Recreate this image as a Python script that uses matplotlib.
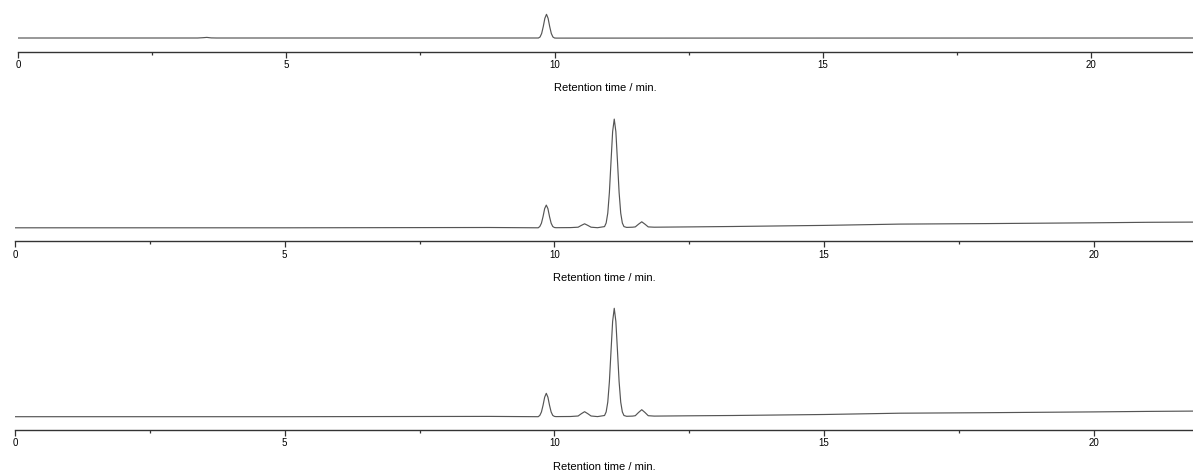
import matplotlib.pyplot as plt
from matplotlib.ticker import MultipleLocator

plt.rcParams['font.family'] = ['Liberation Sans', 'DejaVu Sans']

# trace 1 (top): retention time / min, signal (arb. units)
t1 = [0.0, 3.35, 3.45, 3.52, 3.6, 3.7, 9.7, 9.73, 9.76, 9.79, 9.82, 9.85,
      9.88, 9.91, 9.94, 9.97, 10.0, 10.03, 10.06, 10.2, 21.9]
s1 = [0.3, 0.3, 0.6, 0.9, 0.4, 0.3, 0.3, 1.3, 4.8, 11.7, 20.0, 24.0,
      20.0, 11.7, 4.8, 1.3, 0.3, 0.2, 0.2, 0.2, 0.3]

# trace 2 (middle)
t2 = [0.0, 5.0, 8.8, 9.7, 9.73, 9.76, 9.79, 9.82, 9.85, 9.88, 9.91, 9.94,
      9.97, 10.0, 10.03, 10.3, 10.44, 10.5, 10.56, 10.62, 10.68, 10.8,
      10.93, 10.96, 10.99, 11.02, 11.05, 11.08, 11.11, 11.14, 11.17, 11.2,
      11.23, 11.26, 11.29, 11.34, 11.45, 11.5, 11.56, 11.62, 11.68, 11.74,
      11.85, 12.5, 13.3, 15.0, 16.4, 18.0, 20.0, 21.0, 21.84]
s2 = [0.0, 0.0, 0.3, 0.0, 1.3, 4.6, 11.2, 19.2, 22.7, 19.2, 11.2, 4.6,
      1.3, 0.3, 0.1, 0.2, 0.6, 2.4, 4.0, 2.4, 0.6, 0.1,
      1.2, 4.8, 14.7, 35.4, 66.2, 96.2, 108.7, 96.2, 66.2, 35.4,
      14.7, 4.8, 1.2, 0.4, 0.6, 0.9, 3.6, 6.0, 3.6, 0.9,
      0.6, 0.9, 1.3, 2.4, 3.7, 4.2, 5.0, 5.5, 5.7]

# trace 3 (bottom)
t3 = [0.0, 5.0, 8.8, 9.7, 9.73, 9.76, 9.79, 9.82, 9.85, 9.88, 9.91, 9.94,
      9.97, 10.0, 10.03, 10.3, 10.44, 10.5, 10.56, 10.62, 10.68, 10.8,
      10.93, 10.96, 10.99, 11.02, 11.05, 11.08, 11.11, 11.14, 11.17, 11.2,
      11.23, 11.26, 11.29, 11.34, 11.45, 11.5, 11.56, 11.62, 11.68, 11.74,
      11.85, 12.5, 13.3, 15.0, 16.4, 18.0, 20.0, 21.0, 21.84]
s3 = [0.0, 0.0, 0.3, 0.0, 1.3, 4.7, 11.4, 19.5, 23.4, 19.5, 11.4, 4.7,
      1.3, 0.3, 0.1, 0.2, 0.7, 3.0, 5.0, 3.0, 0.7, 0.1,
      1.2, 4.8, 14.6, 35.1, 65.6, 95.3, 108.4, 95.3, 65.6, 35.1,
      14.6, 4.8, 1.2, 0.4, 0.6, 1.0, 4.2, 7.0, 4.2, 1.0,
      0.6, 0.9, 1.2, 2.2, 3.5, 4.0, 4.8, 5.3, 5.6]

xlabel = 'Retention time / min.'

W, H = 1193, 474
fig = plt.figure(figsize=(W / 100, H / 100), dpi=100)

# (left px, axis px from top, height px, x max, y bottom)
panels = [
    (18, 51.7, 51.7, 21.9, -13.4, t1, s1),
    (15, 241.3, 131, 21.84, -13.5, t2, s2),
    (15, 430.0, 131, 21.84, -13.3, t3, s3),
]

for left, axis_y, h, xmax, ybot, t, s in panels:
    ax = fig.add_axes([left / W, 1 - axis_y / H, 1 - left / W, h / H])
    ax.plot(t, s, color='#555555', lw=0.85)
    ax.set_xlim(0, xmax)
    ax.set_ylim(ybot, ybot + h)
    for side in ['top', 'right', 'left']:
        ax.spines[side].set_visible(False)
    ax.spines['bottom'].set_color('#333333')
    ax.spines['bottom'].set_linewidth(1.0)
    ax.set_yticks([])
    ax.xaxis.set_major_locator(MultipleLocator(5))
    ax.xaxis.set_minor_locator(MultipleLocator(2.5))
    ax.tick_params(axis='x', which='major', length=4, width=0.9,
                   color='#333333', labelsize=7, pad=2)
    ax.tick_params(axis='x', which='minor', length=2, width=0.9,
                   color='#333333')
    ax.set_xlabel(xlabel, fontsize=8, labelpad=9.5)
    ax.patch.set_alpha(0)

fig.savefig('out.png', dpi=100)
